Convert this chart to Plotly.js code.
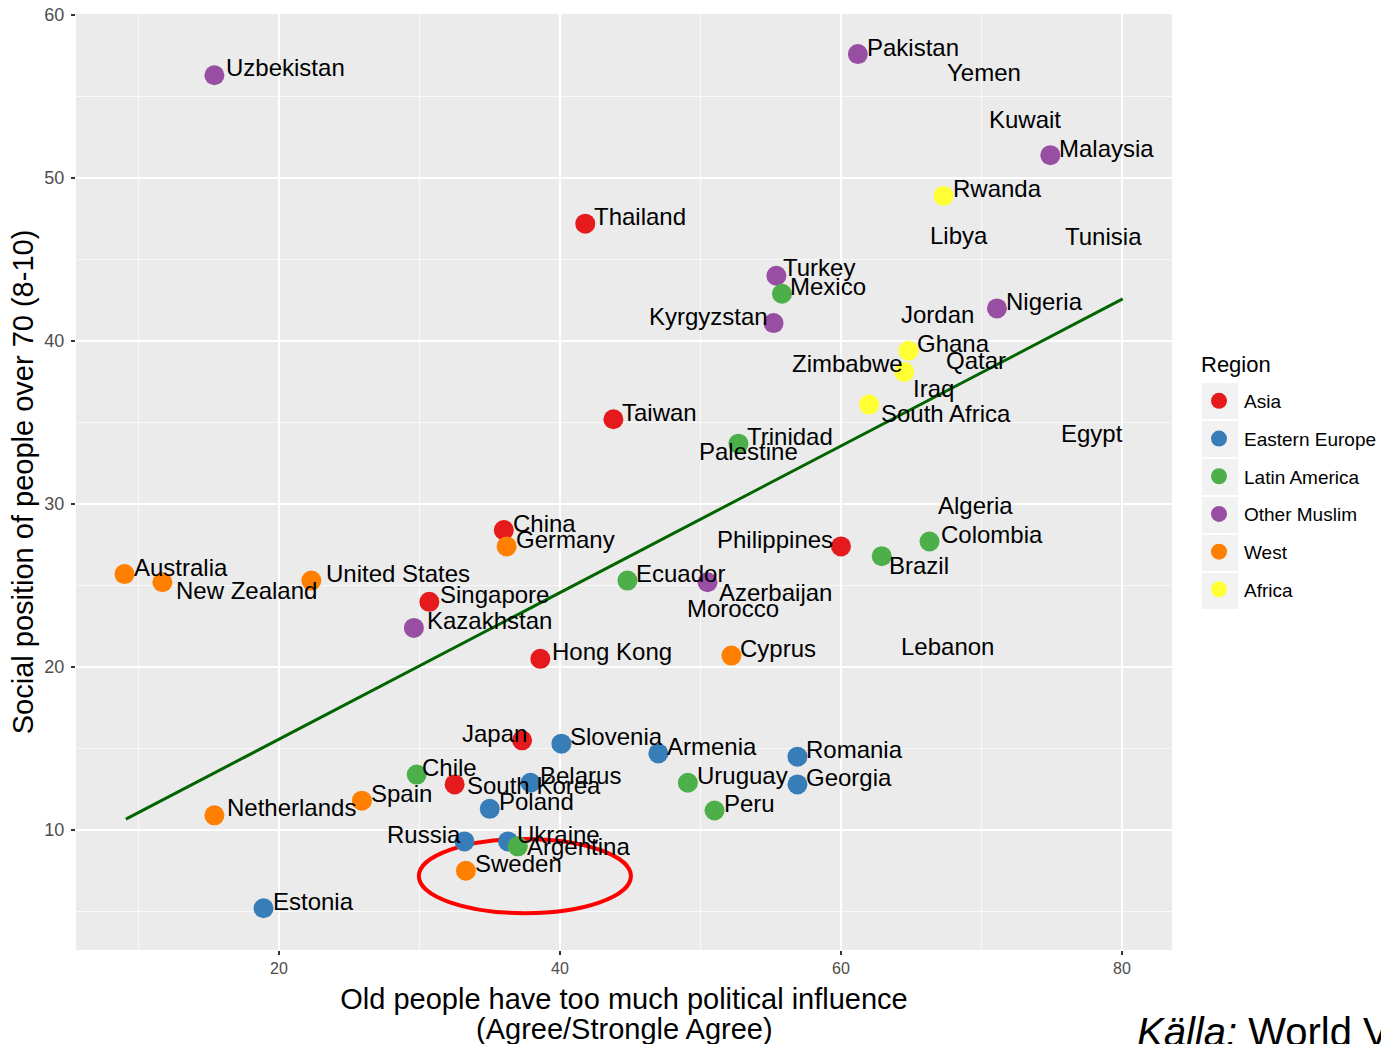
<!DOCTYPE html>
<html><head><meta charset="utf-8">
<script src="https://cdn.plot.ly/plotly-3.0.1.min.js"></script>
<style>html,body{margin:0;padding:0;background:#fff;overflow:hidden}#chart{width:1381px;height:1044px}</style>
</head><body><div id="chart"></div>
<script>
// ---- data ----
const regions = ['Asia','Eastern Europe','Latin America','Other Muslim','West','Africa'];
const regionColors = ['#E41A1C','#377EB8','#4DAF4A','#984EA3','#FF7F00','#FFFF33'];

const countries = ['Thailand','Taiwan','China','Philippines','Singapore','Hong Kong','Japan','South Korea',
  'Slovenia','Armenia','Romania','Belarus','Georgia','Poland','Russia','Ukraine','Estonia',
  'Mexico','Trinidad','Colombia','Brazil','Ecuador','Chile','Uruguay','Peru','Argentina',
  'Uzbekistan','Pakistan','Malaysia','Turkey','Kyrgyzstan','Nigeria','Azerbaijan','Kazakhstan',
  'Germany','Australia','New Zealand','United States','Cyprus','Spain','Netherlands','Sweden',
  'Rwanda','Ghana','Zimbabwe','South Africa'];
const influence = [41.8,43.8,36.0,60.0,30.7,38.6,37.3,32.5,
  40.1,47.0,56.9,37.9,56.9,35.0,33.2,36.3,18.9,
  55.8,52.7,66.3,62.9,44.8,29.8,49.1,51.0,37.0,
  15.4,61.2,74.9,55.4,55.2,71.1,50.5,29.6,
  36.2,9.0,11.7,22.3,52.2,25.9,15.4,33.3,
  67.3,64.8,64.5,62.0];
const socialPos = [47.2,35.2,28.4,27.4,24.0,20.5,15.5,12.8,
  15.3,14.7,14.5,12.9,12.8,11.3,9.3,9.3,5.2,
  42.9,33.7,27.7,26.8,25.3,13.4,12.9,11.2,9.0,
  56.3,57.6,51.4,44.0,41.1,42.0,25.2,22.4,
  27.4,25.7,25.2,25.3,20.7,11.8,10.9,7.5,
  48.9,39.4,38.1,36.1];
const countryRegion = ['Asia','Asia','Asia','Asia','Asia','Asia','Asia','Asia',
  'Eastern Europe','Eastern Europe','Eastern Europe','Eastern Europe','Eastern Europe','Eastern Europe','Eastern Europe','Eastern Europe','Eastern Europe',
  'Latin America','Latin America','Latin America','Latin America','Latin America','Latin America','Latin America','Latin America','Latin America',
  'Other Muslim','Other Muslim','Other Muslim','Other Muslim','Other Muslim','Other Muslim','Other Muslim','Other Muslim',
  'West','West','West','West','West','West','West','West',
  'Africa','Africa','Africa','Africa'];

// countries shown only by name (no marker in the original)
const nameOnlyCountries = ['Yemen','Kuwait','Libya','Tunisia','Jordan','Qatar','Iraq','Egypt','Palestine','Algeria','Morocco','Lebanon'];
const nameOnlyX = [70.2,73.1,68.4,78.65,66.9,69.6,66.55,77.85,53.45,69.55,52.3,67.55];
const nameOnlyY = [56.5,53.6,46.45,46.4,41.65,38.8,37.1,34.35,33.2,29.9,23.6,21.25];

// fitted regression line
const fitX = [9.1, 80.05];
const fitY = [10.67, 42.58];

// axis titles
const xTitleLine1 = 'Old people have too much political influence';
const xTitleLine2 = '(Agree/Strongle Agree)';
const yTitle = 'Social position of people over 70 (8-10)';

// ---- label styling: [side, xshift, yshift] ----
const labelDefault = ['r', 8, 7];
const labelStyle = {
  'Kyrgyzstan':['l',-5,7], 'Zimbabwe':['l',0,8], 'Philippines':['l',-7,7], 'Japan':['l',6,7], 'Russia':['l',-2,7],
  'South Africa':['r',11,-9], 'Brazil':['r',6,-9], 'New Zealand':['r',13,-8], 'Azerbaijan':['r',10,-10],
  'United States':['r',14,7], 'South Korea':['r',11,-1], 'Argentina':['r',8,0], 'Netherlands':['r',12,8],
  'Chile':['r',4,7], 'Turkey':['r',6,8], 'Mexico':['r',7,7], 'Colombia':['r',10,7], 'Australia':['r',9,7],
  'Singapore':['r',10,7], 'Kazakhstan':['r',12,7], 'Hong Kong':['r',11,7], 'Uzbekistan':['r',11,8]
};

const FONT = 'Liberation Sans, Arial, Helvetica, sans-serif';
const drawOrder = ['Asia','Eastern Europe','Other Muslim','Latin America','West','Africa'];

const traces = [];
traces.push({x: fitX, y: fitY, type:'scatter', mode:'lines', line:{color:'#006400', width:3},
  showlegend:false, hoverinfo:'skip'});
drawOrder.forEach(reg => {
  const idx = countries.map((c,i)=>i).filter(i => countryRegion[i] === reg);
  const r = regions.indexOf(reg);
  traces.push({
    x: idx.map(i=>influence[i]), y: idx.map(i=>socialPos[i]), text: idx.map(i=>countries[i]),
    type:'scatter', mode:'markers', name: reg, legendgroup: reg, legendrank: r+1,
    marker:{color: regionColors[r], size:20, line:{width:0}},
    hoverinfo:'text+x+y'
  });
});

const annotations = [];
countries.forEach((c,i) => {
  const s = labelStyle[c] || labelDefault;
  annotations.push({x: influence[i], y: socialPos[i], xref:'x', yref:'y', text: c, showarrow:false,
    xanchor: s[0]==='r' ? 'left' : 'right', yanchor:'middle', xshift: s[1], yshift: s[2],
    font:{family:FONT, size:24, color:'#000'}, borderpad:0});
});
nameOnlyCountries.forEach((c,i) => {
  annotations.push({x: nameOnlyX[i], y: nameOnlyY[i], xref:'x', yref:'y', text: c, showarrow:false,
    xanchor:'center', yanchor:'middle', font:{family:FONT, size:24, color:'#000'}, borderpad:0});
});
// second line of the x-axis title
annotations.push({xref:'paper', yref:'paper', x:0.5, y:(950-1029)/936, xanchor:'center', yanchor:'middle',
  text:xTitleLine2, showarrow:false, font:{family:FONT, size:29, color:'#000'}, borderpad:0});
annotations.push({xref:'paper', yref:'paper', x:(1136-76)/1096, y:-0.088, xanchor:'left', yanchor:'middle',
  text:'<i>Källa:</i> World Values Survey', showarrow:false, font:{family:FONT, size:40, color:'#000'}, borderpad:0});
// legend heading
annotations.push({xref:'paper', yref:'paper', x:(1200-76)/1096, y:(950-364)/936, xanchor:'left', yanchor:'middle',
  text:'Region', showarrow:false, font:{family:FONT, size:22, color:'#000'}, borderpad:0});

// legend key backgrounds
const shapes = [];
for (let k=0;k<6;k++){
  const top = 383 + 38*k;
  shapes.push({type:'rect', xref:'paper', yref:'paper', x0:(1202-76)/1096, x1:(1238-76)/1096,
    y0:(950-(top+36))/936, y1:(950-top)/936, fillcolor:'#f2f2f2', line:{width:0}, layer:'below'});
}
// red ellipse highlighting Sweden
shapes.push({type:'circle', xref:'x', yref:'y', x0:29.95, x1:45.05, y0:4.9, y1:9.45,
  line:{color:'#ff0000', width:4}, fillcolor:'rgba(0,0,0,0)', layer:'between'});

const layout = {
  width:1381, height:1044,
  margin:{l:76, r:209, t:14, b:94},
  paper_bgcolor:'#ffffff', plot_bgcolor:'#ebebeb',
  font:{family:FONT, color:'#000'},
  xaxis:{range:[5.55,83.56], tickvals:[20,40,60,80], showgrid:true, gridcolor:'#ffffff', gridwidth:1.6,
    minor:{tickvals:[10,30,50,70], showgrid:true, gridcolor:'#ffffff', gridwidth:0.7, ticks:''},
    zeroline:false, showline:false, ticks:'outside', ticklen:4, tickcolor:'#333333', tickwidth:1.1,
    tickfont:{family:FONT, size:16, color:'#4d4d4d'},
    title:{text:xTitleLine1, font:{family:FONT, size:29, color:'#000'}, standoff:12},
    automargin:false},
  yaxis:{range:[2.64,60.06], tickvals:[10,20,30,40,50,60], showgrid:true, gridcolor:'#ffffff', gridwidth:1.6,
    minor:{tickvals:[5,15,25,35,45,55], showgrid:true, gridcolor:'#ffffff', gridwidth:0.7, ticks:''},
    zeroline:false, showline:false, ticks:'outside', ticklen:4, tickcolor:'#333333', tickwidth:1.1,
    tickfont:{family:FONT, size:18, color:'#4d4d4d'}, ticklabelstandoff:3,
    title:{text:yTitle, font:{family:FONT, size:29, color:'#000'}, standoff:2},
    automargin:false},
  legend:{xref:'container', yref:'container', x:1194/1381, xanchor:'left', y:1-382/1044, yanchor:'top',
    bgcolor:'rgba(0,0,0,0)', font:{family:FONT, size:19, color:'#000'},
    traceorder:'grouped', tracegroupgap:10, itemsizing:'trace', itemwidth:40},
  annotations: annotations,
  shapes: shapes,
  showlegend:true
};
Plotly.newPlot('chart', traces, layout, {staticPlot:true, displayModeBar:false});
</script></body></html>
